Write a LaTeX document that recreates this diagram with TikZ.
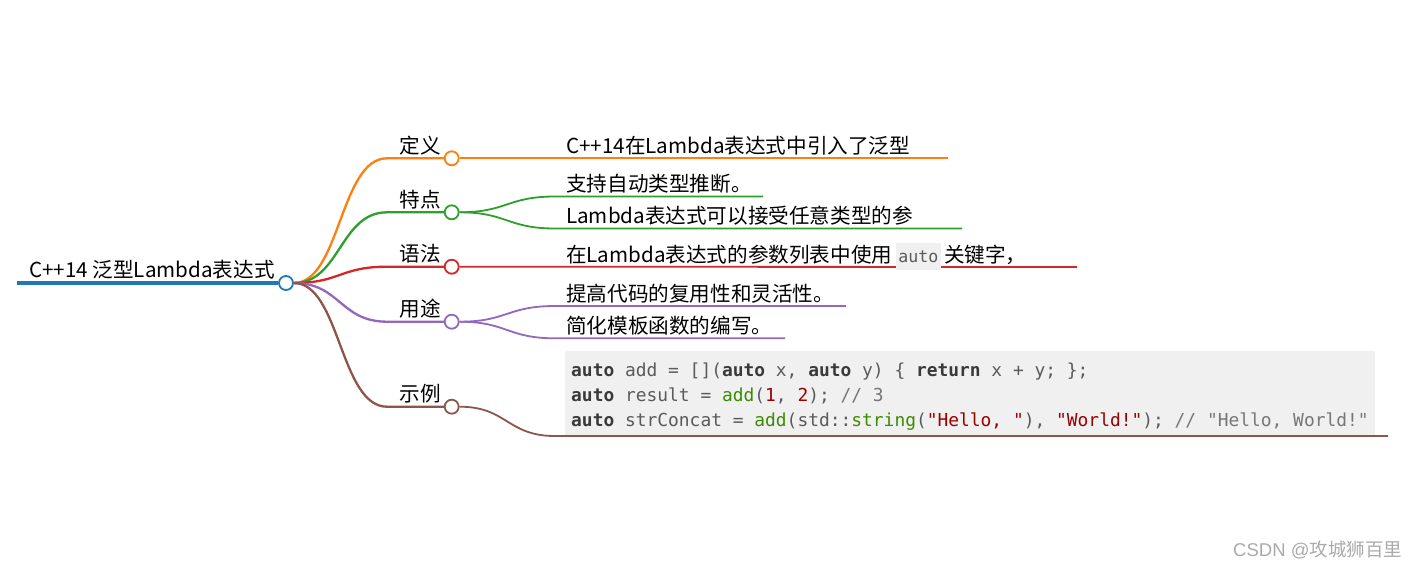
\documentclass[tikz,border=0pt]{standalone}
\usepackage{fontspec}
\newfontfamily\cjk{Noto Sans CJK SC}
\newfontfamily\mono{DejaVu Sans Mono}
\newfontfamily\wmlat{Liberation Sans}
\definecolor{cRoot}{HTML}{1F77B4}
\definecolor{cA}{HTML}{FF7F0E}
\definecolor{cB}{HTML}{2CA02C}
\definecolor{cC}{HTML}{D62728}
\definecolor{cD}{HTML}{9467BD}
\definecolor{cE}{HTML}{8C564B}
\definecolor{codebg}{HTML}{F0F0F0}
\definecolor{codeplain}{HTML}{5A5A5A}
\definecolor{codekw}{HTML}{3A3A3A}
\definecolor{codefn}{HTML}{3E8A00}
\definecolor{codestr}{HTML}{990000}
\definecolor{codecm}{HTML}{777777}
\definecolor{wmgray}{HTML}{AAAAAA}
\newcommand\ckw[1]{{\bfseries\color{codekw}#1}}
\newcommand\cfn[1]{{\color{codefn}#1}}
\newcommand\cst[1]{{\color{codestr}#1}}
\newcommand\ccm[1]{{\color{codecm}#1}}
\begin{document}
\begin{tikzpicture}[x=1pt,y=-1pt]
\useasboundingbox (0,0) rectangle (1419,568);
\tikzset{
  hub/.style={circle,draw,fill=white,line width=1.8pt,minimum size=14pt,inner sep=0pt},
  lbl/.style={inner sep=0pt,font=\cjk\fontsize{20.6}{25}\selectfont,text=black},
  rootlbl/.style={inner sep=0pt,font=\cjk\fontsize{20.6}{25}\selectfont,text=black},
  br/.style={line width=2.3pt},
  lf/.style={line width=1.8pt},
  codetxt/.style={inner sep=0pt,anchor=base west,font=\mono\fontsize{17.9}{22}\selectfont,text=codeplain},
}
% root
\node[rootlbl,anchor=base west] (root) at (29,277.5) {C++14 泛型Lambda表达式};
\node[hub,draw=cRoot] (c0) at (286,283) {};
\coordinate (rs) at (17,283);
\draw[cRoot,line width=4.4pt] (rs) -- (c0.west);

% branch hubs
\node[hub,draw=cA] (bA) at (451.7,158.3) {};
\node[hub,draw=cB] (bB) at (451.7,212.3) {};
\node[hub,draw=cC] (bC) at (451.7,266.7) {};
\node[hub,draw=cD] (bD) at (451.7,321.7) {};
\node[hub,draw=cE] (bE) at (451.7,406.7) {};

% branch labels
\node[lbl,anchor=base east] (tA) at (441,153.3) {定义};
\node[lbl,anchor=base east] (tB) at (441,207.3) {特点};
\node[lbl,anchor=base east] (tC) at (441,261.7) {语法};
\node[lbl,anchor=base east] (tD) at (441,316.7) {用途};
\node[lbl,anchor=base east] (tE) at (441,401.7) {示例};

% branch connectors
\draw[br,cA] (c0.east) .. controls (340,283) and (340,158.3) .. (387,158.3) -- (bA.west);
\draw[br,cB] (c0.east) .. controls (340,283) and (340,212.3) .. (387,212.3) -- (bB.west);
\draw[br,cC] (c0.east) .. controls (340,283) and (340,266.7) .. (387,266.7) -- (bC.west);
\draw[br,cD] (c0.east) .. controls (340,283) and (340,321.7) .. (387,321.7) -- (bD.west);
\draw[br,cE] (c0.east) .. controls (340,283) and (340,406.7) .. (387,406.7) -- (bE.west);

% code block background
\node[fill=codebg,anchor=north west,minimum width=810pt,minimum height=85pt,inner sep=0pt] (codebox) at (565,351) {};

% leaf line end points
\coordinate (eA) at (948,158.3);
\coordinate (eB1) at (763,196.5);
\coordinate (eB2) at (962,228.5);
\coordinate (eC) at (1077,267);
\coordinate (eD1) at (846,306);
\coordinate (eD2) at (785,338.3);
\coordinate (eE) at (1388,436);

% leaf connectors
\draw[lf,cA] (bA.east) -- (eA);
\draw[lf,cB] (bB.east) .. controls (507,212.3) and (507,196.5) .. (555,196.5) -- (eB1);
\draw[lf,cB] (bB.east) .. controls (507,212.3) and (507,228.5) .. (555,228.5) -- (eB2);
\draw[lf,cC] (bC.east) -- (eC);
\draw[lf,cD] (bD.east) .. controls (507,321.7) and (507,306) .. (555,306) -- (eD1);
\draw[lf,cD] (bD.east) .. controls (507,321.7) and (507,338.3) .. (555,338.3) -- (eD2);
\draw[lf,cE] (bE.east) .. controls (507,406.7) and (507,436) .. (555,436) -- (eE);

% leaf texts
\node[lbl,anchor=base west] (lA) at (566,153.3) {C++14在Lambda表达式中引入了泛型};
\node[lbl,anchor=base west] (lB1) at (566,191.5) {支持自动类型推断。};
\node[lbl,anchor=base west] (lB2) at (566,223.5) {Lambda表达式可以接受任意类型的参};
\node[lbl,anchor=base west] (lC1) at (566,262) {在Lambda表达式的参数列表中使用};
\node[inner xsep=2.5pt,inner ysep=4pt,text height=15pt,text depth=4pt,fill=codebg,anchor=base west,
      font=\mono\fontsize{16.6}{20}\selectfont,text=codeplain] (lC2) at ([xshift=3pt]lC1.base east) {auto};
\node[lbl,anchor=base west] (lC3) at ([xshift=3pt]lC2.base east) {关键字，};
\node[lbl,anchor=base west] (lD1) at (566,301) {提高代码的复用性和灵活性。};
\node[lbl,anchor=base west] (lD2) at (566,333.3) {简化模板函数的编写。};

% code lines
\node[codetxt] (cl1) at (571,376) {\ckw{auto} add = [](\ckw{auto} x, \ckw{auto} y) \{ \ckw{return} x + y; \};};
\node[codetxt] (cl2) at (571,401) {\ckw{auto} result = \cfn{add}(\cst{1}, \cst{2}); \ccm{// 3}};
\node[codetxt] (cl3) at (571,426) {\ckw{auto} strConcat = \cfn{add}(std::\cfn{string}(\cst{"Hello, "}), \cst{"World!"}); \ccm{// "Hello, World!"}};

% watermark
\node[inner sep=0pt,anchor=base west,text=wmgray,font=\fontsize{18.5}{22}\selectfont] (wm) at (1233,556.5) {\wmlat CSDN @\cjk 攻城狮百里};
\end{tikzpicture}
\end{document}
